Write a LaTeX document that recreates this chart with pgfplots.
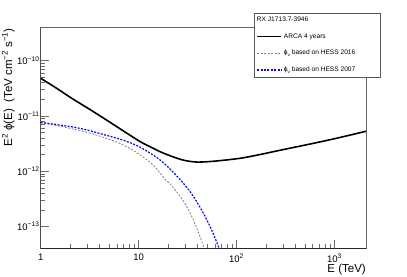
\documentclass[border=0pt]{standalone}
\usepackage{fontspec}
\setmainfont{Liberation Sans}
\usepackage{pgfplots}
\pgfplotsset{compat=1.18}
\definecolor{hessgray}{RGB}{128,128,128}
\definecolor{hessblue}{RGB}{10,10,245}
\begin{document}
\begin{tikzpicture}
\path[use as bounding box] (-40.7pt,-28pt) rectangle (366.3pt,248pt);
\begin{axis}[
  scale only axis, width=325.3pt, height=221pt,
  xmode=log, ymode=log,
  xmin=1, xmax=2100, ymin=4.1e-14, ymax=4.07e-10,
  xtick={1,10,100,1000},
  xticklabels={1,10,10\textsuperscript{2},10\textsuperscript{3}},
  ytick={1e-13,1e-12,1e-11,1e-10},
  yticklabels={10\textsuperscript{−13},10\textsuperscript{−12},10\textsuperscript{−11},10\textsuperscript{−10}},
  tick align=inside, tick pos=left,
  major tick length=8pt, minor tick length=4pt,
  every tick/.style={gray!85!black, line width=0.5pt},
  tick label style={font=\fontsize{9.5}{11}\selectfont},
  xticklabel style={yshift=-2pt},
  yticklabel style={inner sep=1pt},
  axis line style={draw=gray!80!black, line width=0.6pt},
  xlabel={E (TeV)},
  xlabel style={at={(axis description cs:1,-0.113)}, anchor=base east, inner sep=0pt, font=\fontsize{11.5}{13}\selectfont},
  ylabel={E\textsuperscript{2} ϕ(E)\ \ (TeV cm\textsuperscript{−2} s\textsuperscript{−1})},
  ylabel style={at={(axis description cs:-0.088,0.9955)}, anchor=base east, inner sep=0pt, font=\fontsize{11.5}{13}\selectfont},
  legend image code/.code={\draw[#1] (0pt,0pt) -- (24pt,0pt);},
  legend cell align=left,
  legend style={at={(axis description cs:0.656,1.065)}, anchor=north west,
    draw=gray!70!black, line width=0.5pt, font=\fontsize{6.6}{7.8}\selectfont,
    inner xsep=2pt, inner ysep=2pt, row sep=6.5pt},
]
\addlegendimage{empty legend}
\addlegendentry{\hspace*{-27pt}RX J1713.7-3946}

\addplot[black, line width=1.6pt, smooth] coordinates {
(1,4.81e-11) (1.46,3.16e-11) (2.15,2.01e-11) (3.19,1.31e-11) (4.73,8.4e-12)
(7.0,5.36e-12) (10.4,3.43e-12) (13.2,2.76e-12) (16.6,2.26e-12) (21,1.91e-12)
(26.6,1.65e-12) (32,1.53e-12) (39.4,1.47e-12) (50,1.49e-12) (68,1.56e-12)
(109,1.72e-12) (162,1.96e-12) (303,2.48e-12) (567,3.12e-12)
(1063,3.98e-12) (2100,5.3e-12)};
\addlegendentry{\makebox[92pt][l]{ARCA 4 years}}

\addplot[hessgray, line width=0.8pt, dash pattern=on 2pt off 1.5pt, smooth] coordinates {
(1,7.55e-12) (1.5,6.65e-12) (2.41,5.55e-12) (3.5,4.66e-12) (4.73,3.92e-12)
(6.47,3.18e-12) (8.19,2.58e-12) (10.4,1.97e-12) (13,1.48e-12) (15.4,1.09e-12)
(18.7,7.1e-13) (21,5.9e-13) (26,3.7e-13) (31.1,2.29e-13) (36.5,1.27e-13)
(42.5,6.56e-14) (46,4.33e-14) (50,2.7e-14)};
\addlegendentry{\makebox[92pt][l]{ϕ\raisebox{-0.45ex}{\fontsize{4.7}{5}\selectfont ν} based on HESS 2016}}

\addplot[hessblue, line width=1.2pt, dash pattern=on 2pt off 1.4pt, smooth] coordinates {
(1,7.69e-12) (1.5,6.94e-12) (2.15,6.3e-12) (3,5.56e-12) (4.73,4.45e-12)
(7,3.64e-12) (10.4,2.72e-12) (16.6,1.60e-12) (24.6,8.2e-13) (33.6,4.28e-13)
(42,2.3e-13) (49.8,1.32e-13) (57,7.9e-14) (65.5,4.33e-14) (72,2.73e-14)};
\addlegendentry{\makebox[92pt][l]{ϕ\raisebox{-0.45ex}{\fontsize{4.7}{5}\selectfont ν} based on HESS 2007}}

\draw[black!85, line width=0.7pt] (rel axis cs:0,1) -- (rel axis cs:0,0) -- (rel axis cs:1,0);
\end{axis}
\end{tikzpicture}
\end{document}
